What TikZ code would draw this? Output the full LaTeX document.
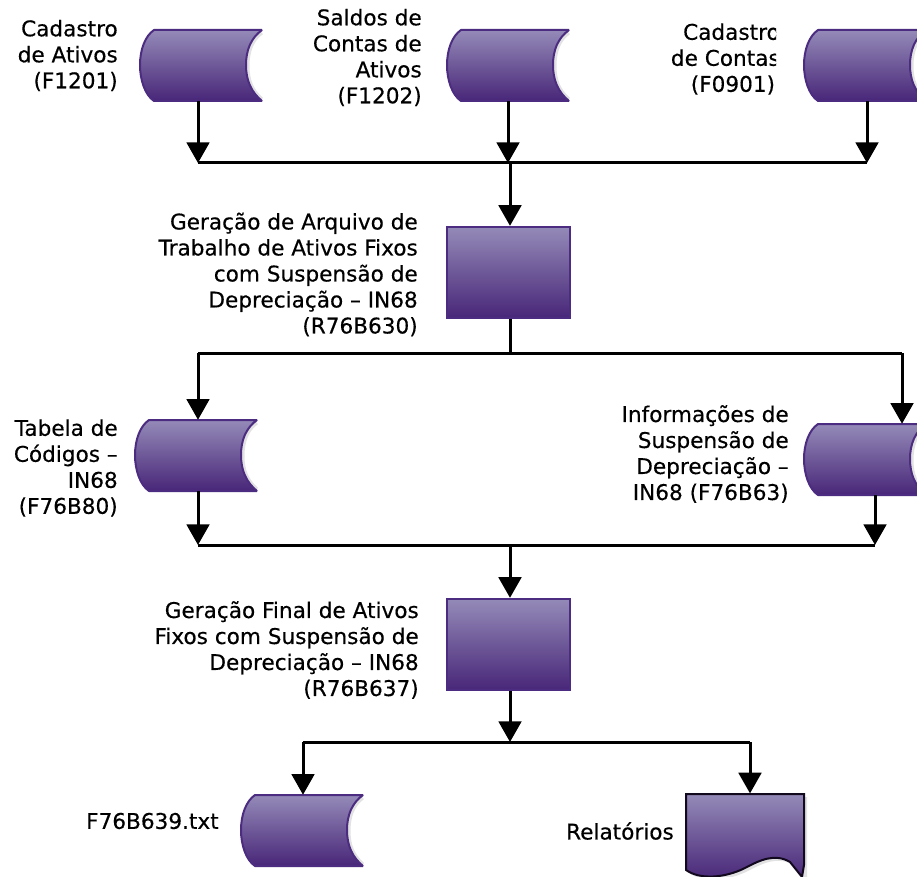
\documentclass[tikz,border=0pt]{standalone}
\usepackage{fontspec}
\newfontface\rotulo{DejaVu Sans}[FakeBold=0.4]
\usetikzlibrary{arrows.meta, positioning}
\definecolor{roxoTop}{RGB}{148, 138, 184}
\definecolor{roxoBot}{RGB}{72, 38, 120}
\definecolor{roxoEdge}{RGB}{76, 44, 128}
\definecolor{sombra}{RGB}{226, 226, 226}
\tikzset{
    stor/.style={inner sep=0, minimum width=92.25pt, minimum height=53.25pt},
    proc/.style={draw=roxoEdge, line width=1.5pt, top color=roxoTop, bottom color=roxoBot, inner sep=0, minimum width=92pt, minimum height=68.5pt},
    docu/.style={inner sep=0, minimum width=88.5pt, minimum height=62pt},
    lbl/.style={align=right, anchor=east, inner sep=0, font=\rotulo\fontsize{16.2}{19.5}\selectfont},
    conn/.style={-, black, line width=2.25pt},
    seta/.style={-{Triangle[length=15.5pt, width=17pt]}, black, line width=2.25pt},
}
% name, left edge, top edge
\newcommand{\storage}[3]{
    \begin{scope}[shift={(#2,#3)}]
        \draw[sombra, line width=2.25pt] (122,3) .. controls (112,10) and (108,22) .. (108,36) .. controls (108,50) and (112,60) .. (122,69);
        \shade[top color=roxoTop, bottom color=roxoBot, draw=roxoEdge, line width=1.5pt, line join=bevel]
            (14,0) -- (122,0) .. controls (111,8) and (106,20) .. (106,35) .. controls (106,50) and (111,62) .. (122,71)
            -- (14,71) .. controls (5,65) and (0,50) .. (0,35) .. controls (0,20) and (5,6) .. (14,0) -- cycle;
    \end{scope}
    \node [stor] (#1) at (#2+61.5,#3+35.5) {};
}
\begin{document}
\begin{tikzpicture}[x=0.75pt, y=-0.75pt]
    \useasboundingbox (0,0) rectangle (917,877);
    \clip (0,0) rectangle (917,877);

    \storage{s1}{140}{30}
    \storage{s2}{447}{30}
    \storage{s3}{804}{30}
    \storage{s4}{135}{420}
    \storage{s5}{804}{424}
    \storage{s6}{241}{795}

    \node [proc] (p1) at (508.5,272.5) {};
    \node [proc] (p2) at (508.5,644.5) {};

    % report
    \fill[sombra] (689,797) -- (807,797) -- (807,879) -- (805,879) -- (793,865) .. controls (778,856) and (763,863) .. (748,871) .. controls (728,881) and (703,883) .. (689,873) -- cycle;
    \shade[top color=roxoTop, bottom color=roxoBot, draw=black!75!roxoBot, line width=1.5pt]
        (686,794) -- (804,794) -- (804,865) -- (802,877) -- (790,862) .. controls (775,853) and (760,860) .. (745,868) .. controls (725,878) and (700,880) .. (686,870) -- cycle;
    \node [docu] (d1) at (745,835) {};

    % labels
    \node [lbl] (t1) at (118,55.5) {Cadastro\\de Ativos\\(F1201)};
    \node [lbl] (t2) at (422,57.5) {Saldos de\\Contas de\\Ativos\\(F1202)};
    \begin{scope}
        \clip (600,20) rectangle (776,100);
        \node [lbl] (t3) at (780,59) {Cadastro\\de Contas\\(F0901)\hspace*{3.5pt}};
    \end{scope}
    \node [lbl] (t4) at (418,274.5) {Geração de Arquivo de\\Trabalho de Ativos Fixos\\com Suspensão de\\Depreciação – IN68\\(R76B630)};
    \node [lbl] (t5) at (118,468) {Tabela de\\Códigos –\\IN68\\(F76B80)};
    \node [lbl] (t6) at (789,454) {Informações de\\Suspensão de\\Depreciação –\\IN68 (F76B63)};
    \node [lbl] (t7) at (419,650) {Geração Final de Ativos\\Fixos com Suspensão de\\Depreciação – IN68\\(R76B637)};
    \node [lbl] (t8) at (219,821) {F76B639.txt};
    \node [lbl] (t9) at (674,831) {Relatórios};

    % junctions
    \coordinate (a1) at (198,163);
    \coordinate (a2) at (508,163);
    \coordinate (a3) at (867,163);
    \coordinate (a4) at (510,163);
    \coordinate (b1) at (510,353);
    \coordinate (b2) at (198,353);
    \coordinate (b3) at (902,353);
    \coordinate (c1) at (198,545);
    \coordinate (c2) at (875,545);
    \coordinate (c3) at (510,545);
    \coordinate (e1) at (510,742);
    \coordinate (e2) at (303,742);
    \coordinate (e3) at (750,742);

    \draw[seta] (s1.south -| a1) -- (a1);
    \draw[seta] (s2.south -| a2) -- (a2);
    \draw[seta] (s3.south -| a3) -- (a3);
    \draw[conn] (a1) -- (a3);
    \draw[seta] (a4) -- (p1.north -| a4);

    \draw[conn] (p1.south -| b1) -- (b1);
    \draw[conn] (b2) -- (b3);
    \draw[seta] (b2) -- (s4.north -| b2);
    \draw[seta] (b3) -- (s5.north -| b3);

    \draw[seta] (s4.south -| c1) -- (c1);
    \draw[seta] (s5.south -| c2) -- (c2);
    \draw[conn] (c1) -- (c2);
    \draw[seta] (c3) -- (p2.north -| c3);

    \draw[seta] (p2.south -| e1) -- (e1);
    \draw[conn] (e2) -- (e3);
    \draw[seta] (e2) -- (s6.north -| e2);
    \draw[seta] (e3) -- (d1.north -| e3);
\end{tikzpicture}
\end{document}
